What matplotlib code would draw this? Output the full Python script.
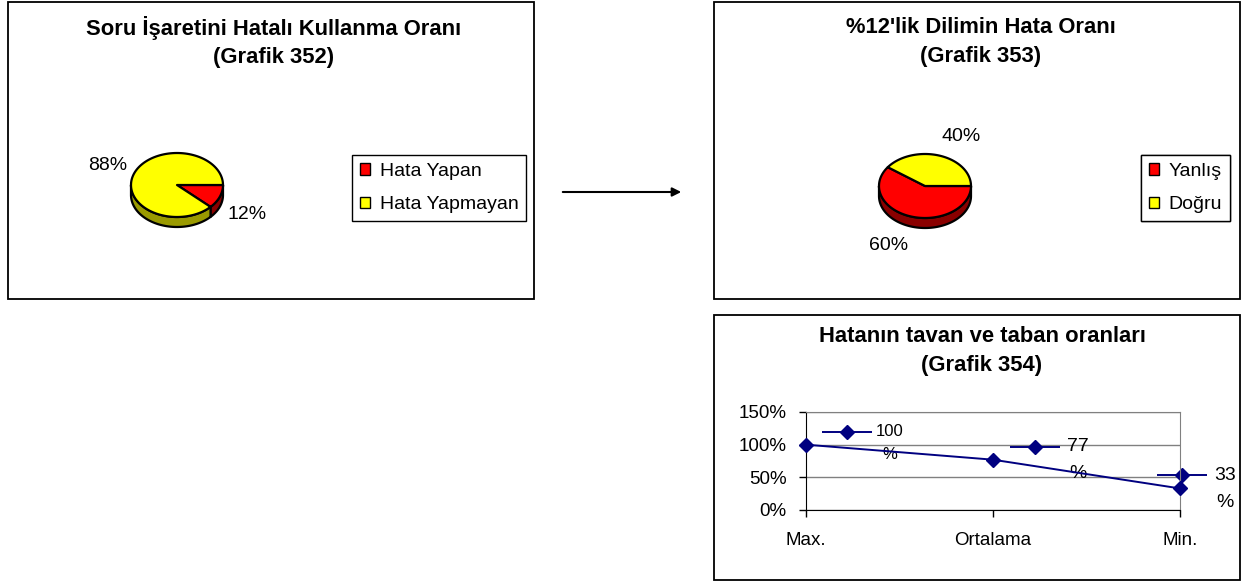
import numpy as np
import matplotlib
matplotlib.use('Agg')
import matplotlib.pyplot as plt
from matplotlib.patches import Rectangle, Polygon, Patch
from matplotlib.transforms import offset_copy

plt.rcParams['font.family'] = ['Liberation Sans', 'DejaVu Sans']

# --- data ---
pie1_title = 'Soru İşaretini Hatalı Kullanma Oranı\n(Grafik 352)'
pie1_labels = ['Hata Yapan', 'Hata Yapmayan']
pie1_values = [12, 88]

pie2_title = "%12'lik Dilimin Hata Oranı\n(Grafik 353)"
pie2_labels = ['Yanlış', 'Doğru']
pie2_values = [60, 40]

line_title = 'Hatanın tavan ve taban oranları\n(Grafik 354)'
line_cats = ['Max.', 'Ortalama', 'Min.']
line_values = [100, 77, 33]
y_ticks = [0, 50, 100, 150]

face_cols = ['#ff0000', '#ffff00']
side_cols = ['#8a0000', '#9a9a00']
navy = '#000080'

W, H = 1244, 583
fig = plt.figure(figsize=(W / 100, H / 100), dpi=100)
cv = fig.add_axes([0, 0, 1, 1])
cv.set_xlim(0, W)
cv.set_ylim(H, 0)
cv.axis('off')

# panel frames
for x0, y0, x1, y1 in [(8, 2, 534, 299), (714, 2, 1240, 299), (714, 315, 1240, 580)]:
    cv.add_patch(Rectangle((x0, y0), x1 - x0, y1 - y0, fill=False, ec='black', lw=1.3))


def pie3d(values, cx, cy, rx=46, ry=32, depth=10):
    fr = np.array(values, dtype=float) / sum(values)
    edges = np.concatenate([[0], np.cumsum(fr)]) * 2 * np.pi
    # visible side (front half)
    for a0, a1, c in zip(edges[:-1], edges[1:], side_cols):
        lo, hi = max(a0, 0), min(a1, np.pi)
        if hi > lo:
            t = np.linspace(lo, hi, 80)
            x = cx + rx * np.cos(t)
            y = cy + ry * np.sin(t)
            pts = np.column_stack([np.r_[x, x[::-1]], np.r_[y, y[::-1] + depth]])
            cv.add_patch(Polygon(pts, fc=c, ec='black', lw=1.6, joinstyle='round'))
    # top faces
    for a0, a1, c in zip(edges[:-1], edges[1:], face_cols):
        t = np.linspace(a0, a1, 120)
        pts = np.column_stack([np.r_[cx, cx + rx * np.cos(t)], np.r_[cy, cy + ry * np.sin(t)]])
        cv.add_patch(Polygon(pts, fc=c, ec='black', lw=1.6, joinstyle='round'))
    # percentage labels
    for a0, a1, v in zip(edges[:-1], edges[1:], values):
        m = (a0 + a1) / 2
        lx = cx + (rx + 8) * np.cos(m)
        ly = cy + (ry + 20) * np.sin(m) + (depth if np.sin(m) > 0 else 0)
        cv.text(lx, ly, f'{v}%', fontsize=14, ha='left' if np.cos(m) > 0 else 'right', va='center')


def legend_box(labels, x, y):
    hs = [Patch(fc=c, ec='black', lw=1) for c in face_cols]
    leg = cv.legend(hs, labels, loc='upper left', bbox_to_anchor=(x, y),
                    bbox_transform=cv.transData, fontsize=14, fancybox=False,
                    framealpha=1, edgecolor='black', borderaxespad=0, borderpad=0.4,
                    handlelength=0.52, handleheight=0.52, handletextpad=0.5,
                    labelspacing=0.85)
    leg.get_frame().set_linewidth(1.0)
    cv.add_artist(leg)


pie3d(pie1_values, 177, 185)
pie3d(pie2_values, 925, 186)
legend_box(pie1_labels, 352, 155)
legend_box(pie2_labels, 1141, 155)

for title, cx, cy in [(pie1_title, 274, 42), (pie2_title, 981, 42), (line_title, 982, 351)]:
    cv.text(cx, cy, title, fontsize=15.8, fontweight='bold', ha='center', va='center',
            linespacing=1.45)

# arrow between the first two panels
cv.annotate('', xy=(684, 192), xytext=(560, 192),
            arrowprops=dict(arrowstyle='-|>', color='black', lw=1.5, mutation_scale=13))

# --- line chart ---
ax = fig.add_axes([806 / W, 1 - 510 / H, 374 / W, 98 / H])
x = np.arange(len(line_cats))
vals = np.array(line_values) / 100
ax.plot(x, vals, color=navy, lw=1.4, marker='D', ms=7, mfc=navy, mec=navy,
        clip_on=False, zorder=5)
ax.set_xlim(0, len(line_cats) - 1)
ax.set_ylim(0, 1.5)
ax.set_yticks(np.array(y_ticks) / 100)
ax.set_yticklabels([f'{t}%' for t in y_ticks])
ax.set_xticks(x)
ax.set_xticklabels(line_cats)
ax.yaxis.grid(True, color='#808080', lw=1)
ax.set_axisbelow(True)
ax.tick_params(axis='both', direction='out', length=5, width=1, labelsize=13.5)
ax.tick_params(axis='y', pad=9)
ax.tick_params(axis='x', pad=11)
for s in ['left', 'bottom']:
    ax.spines[s].set_color('black')
for s in ['top', 'right']:
    ax.spines[s].set_color('#808080')

# data labels with legend key
key_dx = [41, 42, 2]
lab_fs = [12, 14, 14]
for xi, v, raw, dx, fs in zip(x, vals, line_values, key_dx, lab_fs):
    tr = offset_copy(ax.transData, fig=fig, x=dx, y=13, units='dots')
    ax.plot([xi], [v], transform=tr, marker='_', ms=36, mew=1.4, color=navy, clip_on=False)
    ax.plot([xi], [v], transform=tr, marker='D', ms=7, color=navy, clip_on=False)
    ax.annotate(f'{raw}', xy=(xi, v), xytext=(dx + 43, 13), textcoords='offset pixels',
                ha='center', va='center', fontsize=fs, annotation_clip=False)
    ax.annotate('%', xy=(xi, v), xytext=(dx + 43, 13 - fs * 1.9), textcoords='offset pixels',
                ha='center', va='center', fontsize=fs, annotation_clip=False)

fig.savefig('out.png', dpi=100)
